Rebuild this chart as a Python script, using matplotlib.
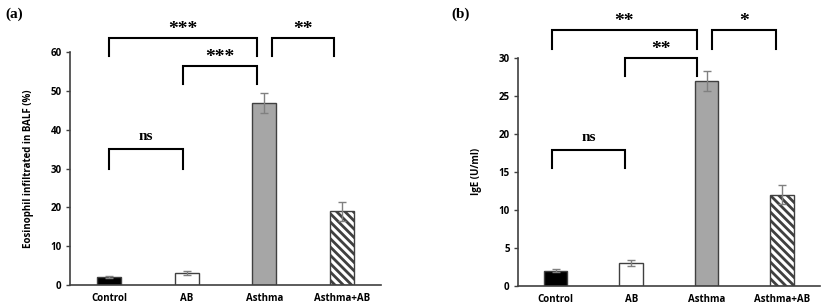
#!/usr/bin/env python3
"""
Eosinophil infiltration in BALF and serum IgE per group, two bar panels.
"""
import matplotlib
matplotlib.use("Agg")
import matplotlib.pyplot as plt
import numpy as np

# Data
groups = ["Control", "AB", "Asthma", "Asthma+AB"]
eos_mean = [2.0, 3.0, 47.0, 19.0]
eos_err = [0.3, 0.5, 2.6, 2.4]
ige_mean = [2.0, 3.0, 27.0, 12.0]
ige_err = [0.2, 0.35, 1.3, 1.3]

# significance brackets: (x_left, x_right, y_bar, y_leg, label)
eos_sig = [
    (0.0, 0.95, 35.0, 29.9, "ns"),
    (0.95, 1.9, 56.4, 51.8, "***"),
    (0.0, 1.9, 63.7, 59.0, "***"),
    (2.1, 2.9, 63.7, 59.0, "**"),
]
ige_sig = [
    (-0.05, 0.92, 17.9, 15.5, "ns"),
    (0.92, 1.87, 30.0, 27.6, "**"),
    (-0.05, 1.87, 33.7, 31.2, "**"),
    (2.07, 2.92, 33.7, 31.2, "*"),
]

SANS = "Open Sans"
SERIF = "Liberation Serif"
plt.rcParams["hatch.linewidth"] = 2.0
plt.rcParams["hatch.color"] = "black"

fills = ["black", "white", "#a6a6a6", "white"]
hatches = [None, None, None, "\\\\\\\\"]


def draw_panel(ax, means, errs, ymax, ystep, ylabel, sig):
    x = np.arange(len(groups))
    for i in range(len(groups)):
        ax.bar(x[i], means[i], width=0.31, color=fills[i], hatch=hatches[i],
               edgecolor="#404040", linewidth=1.0, zorder=2)
    ax.errorbar(x, means, yerr=errs, fmt="none", ecolor="#808080",
                elinewidth=1.0, capsize=3, capthick=1.0, zorder=3)

    ax.set_xlim(-0.5, len(groups) - 0.5)
    ax.set_ylim(0, ymax)
    ax.set_yticks(np.arange(0, ymax + 0.1, ystep))
    ax.set_xticks(x)
    ax.set_xticklabels(groups, fontfamily=SANS, fontweight="bold", fontsize=7)
    for lab in ax.get_yticklabels():
        lab.set_fontfamily(SANS)
        lab.set_fontweight("bold")
        lab.set_fontsize(7)
    ax.tick_params(axis="x", length=0, pad=6)
    ax.tick_params(axis="y", length=3, width=1.0, color="#404040", pad=3)
    for side in ["top", "right"]:
        ax.spines[side].set_visible(False)
    for side in ["left", "bottom"]:
        ax.spines[side].set_color("#404040")
        ax.spines[side].set_linewidth(1.2)
    ax.set_ylabel(ylabel, fontfamily=SANS, fontweight="bold", fontsize=7)

    for x0, x1, yb, yl, label in sig:
        ax.plot([x0, x0, x1, x1], [yl, yb, yb, yl], color="black", lw=1.5,
                clip_on=False, solid_joinstyle="miter")
        if label == "ns":
            ax.text((x0 + x1) / 2, yb + ymax * 0.025, label, ha="center",
                    va="bottom", fontfamily=SERIF, fontweight="bold",
                    fontsize=11, clip_on=False)
        else:
            ax.text((x0 + x1) / 2, yb, label, ha="center",
                    va="bottom", fontfamily=SERIF, fontweight="bold",
                    fontsize=14, clip_on=False)


fig = plt.figure(figsize=(8.24, 3.08), dpi=100)
ax1 = fig.add_axes([0.085, 0.0747, 0.3774, 0.756])
ax2 = fig.add_axes([0.6286, 0.0724, 0.3664, 0.7393])

draw_panel(ax1, eos_mean, eos_err, 60, 10,
           "Eosinophil infiltrated in BALF (%)", eos_sig)
draw_panel(ax2, ige_mean, ige_err, 30, 5, "IgE (U/ml)", ige_sig)
ax1.yaxis.set_label_coords(-0.115, 0.5)
ax2.yaxis.set_label_coords(-0.12, 0.5)

fig.text(0.006, 0.955, "(a)", fontfamily=SERIF, fontweight="bold", fontsize=11,
         va="center", ha="left")
fig.text(0.548, 0.955, "(b)", fontfamily=SERIF, fontweight="bold", fontsize=11,
         va="center", ha="left")

fig.savefig("out.png", dpi=100)
